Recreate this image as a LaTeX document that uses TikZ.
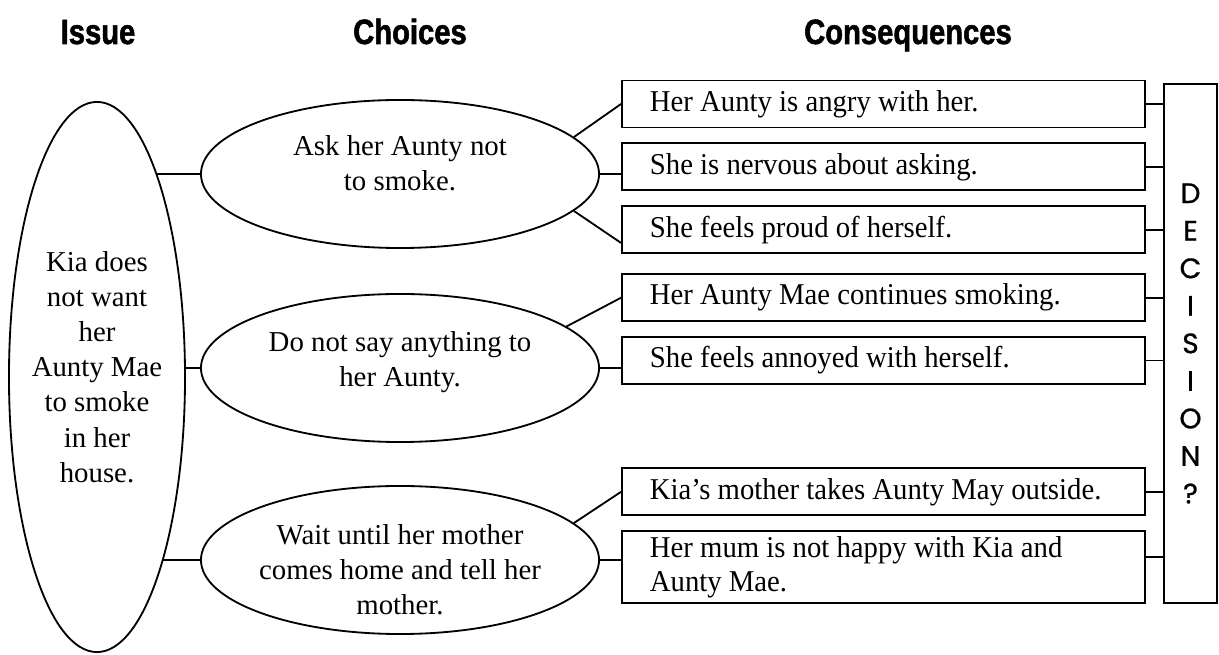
\documentclass[tikz,border=0pt]{standalone}
\usepackage{fontspec}
\setmainfont{Liberation Serif}
\newfontfamily\headfont[FakeStretch=0.83, FakeBold=1.5]{Liberation Sans}
\newfontfamily\boxfont[FakeStretch=0.95]{Liberation Serif}
\newfontfamily\decfont[FakeBold=0.8]{Poppins}
\usetikzlibrary{shapes.geometric, positioning, backgrounds}

\begin{document}
\begin{tikzpicture}[x=0.025cm, y=-0.025cm, node distance=0.35cm]
  \tikzset{
    hnode/.style={anchor=base, font=\headfont\bfseries\fontsize{25pt}{30pt}\selectfont},
    inode/.style={ellipse, draw=black, line width=1.3pt, fill=white,
                  minimum width=4.4cm, minimum height=13.75cm,
                  inner xsep=-1cm, inner ysep=-0.5cm,
                  align=center, font=\fontsize{20.5pt}{25pt}\selectfont},
    cnode/.style={ellipse, draw=black, line width=1.3pt, fill=white,
                  minimum width=9.95cm, minimum height=3.7cm,
                  inner xsep=-1cm, inner ysep=-0.5cm,
                  align=center, font=\fontsize{20.5pt}{25pt}\selectfont},
    bnode/.style={rectangle, draw=black, line width=1.3pt,
                  text width=11.675cm, inner xsep=0.7cm, inner ysep=0pt,
                  minimum height=1.175cm, align=flush left,
                  font=\boxfont\fontsize{21.5pt}{24pt}\selectfont},
    dnode/.style={rectangle, draw=black, line width=1.3pt,
                  minimum width=1.325cm, minimum height=12.975cm, inner sep=0pt,
                  align=center, font=\decfont\fontsize{20pt}{26.7pt}\selectfont},
    conn/.style={line width=1.3pt}
  }
  \useasboundingbox (0,0) rectangle (1219,655);
  % Headings
  \node[hnode] (hissue)  at (98,44)  {Issue};
  \node[hnode] (hchoice) at (410,44) {Choices};
  \node[hnode] (hcons)   at (908,44) {Consequences};
  % Issue
  \node[inode, text depth=14.5pt] (issue) at (97,377) {Kia does\\not want\\her\\Aunty Mae\\to smoke\\in her\\house.};
  % Choices
  \node[cnode, text depth=16pt]  (ask)   at (400,174) {Ask her Aunty not\\to smoke.};
  \node[cnode, text depth=13pt]  (quiet) at (400,368) {Do not say anything to\\her Aunty.};
  \node[cnode, text height=78pt] (wait)  at (400,560) {Wait until her mother\\comes home and tell her\\mother.};
  % Consequences
  \node[bnode] (angry) at (883.5,104) {Her Aunty is angry with her.};
  \node[bnode, below=of angry]        (nervous) {She is nervous about asking.};
  \node[bnode, below=of nervous]      (proud)   {She feels proud of herself.};
  \node[bnode, below=0.48cm of proud] (smoking) {Her Aunty Mae continues smoking.};
  \node[bnode, below=of smoking]      (annoyed) {She feels annoyed with herself.};
  \node[bnode, below=2.06cm of annoyed] (outside) {Kia’s mother takes Aunty May outside.};
  \node[bnode, below=of outside, minimum height=1.8cm] (unhappy) {Her mum is not happy with Kia and\\Aunty Mae.};
  % Decision
  \node[dnode] (dec) at (1190.5,343.5) {D\\E\\C\\I\\S\\I\\O\\N\\?};
  % Issue to choices, behind the issue ellipse
  \begin{pgfonlayer}{background}
    \foreach \c in {ask,quiet,wait}
      \draw[conn] (\c.west) -- (\c.west -| issue.center);
  \end{pgfonlayer}
  % Choices to consequences
  \draw[conn] (ask.12) -- (angry.west);
  \draw[conn] (ask.east) -- (ask.east -| nervous.west);
  \draw[conn] (ask.-12) -- ([yshift=-0.33cm]proud.west);
  \draw[conn] (quiet.14) -- (smoking.west);
  \draw[conn] (quiet.east) -- (quiet.east -| annoyed.west);
  \draw[conn] (wait.12) -- (outside.west);
  \draw[conn] (wait.east) -- (wait.east -| unhappy.west);
  % Consequences to decision
  \foreach \b in {angry,nervous,proud,smoking,annoyed,outside}
    \draw[conn] (\b.east) -- (\b.east -| dec.west);
  \draw[conn] ([yshift=0.25cm]unhappy.east) -- ([yshift=0.25cm]unhappy.east -| dec.west);
\end{tikzpicture}
\end{document}
